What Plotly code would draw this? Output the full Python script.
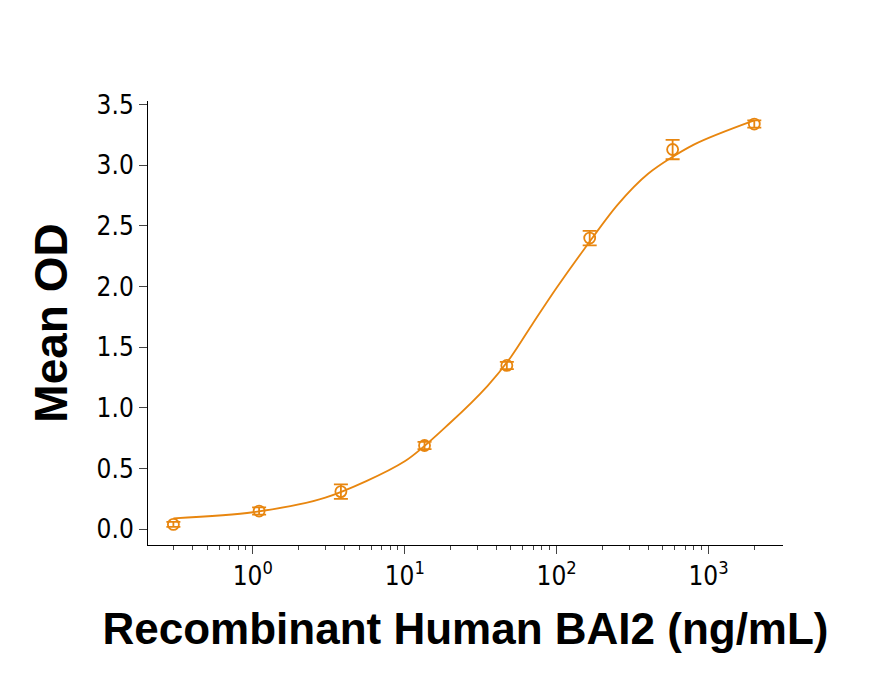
import plotly.graph_objects as go

conc = [0.3, 1.1, 3.8, 13.5, 47, 165, 580, 2000]
od = [0.04, 0.15, 0.31, 0.69, 1.35, 2.40, 3.13, 3.34]
err = [0.02, 0.03, 0.06, 0.03, 0.03, 0.06, 0.08, 0.03]
# smooth fitted-curve points
curve_x = [0.3, 1, 3, 10, 20, 35, 50, 70, 100, 150, 250, 400, 800, 2000]
curve_y = [0.09, 0.14, 0.26, 0.56, 0.88, 1.18, 1.42, 1.70, 1.99, 2.30, 2.67, 2.93, 3.17, 3.37]
xtick_vals = [1, 10, 100, 1000]
xtick_text = ["10<sup>0</sup>", "10<sup>1</sup>", "10<sup>2</sup>", "10<sup>3</sup>"]
minor_vals = [m * 10 ** e for e in range(-1, 4) for m in range(2, 10) if 0.2 < m * 10 ** e < 3000]
ytick_vals = [0, 0.5, 1.0, 1.5, 2.0, 2.5, 3.0, 3.5]

col = "#E8860F"
fig = go.Figure()
fig.add_trace(go.Scatter(x=curve_x, y=curve_y, mode="lines", line=dict(color=col, width=1.8, shape="spline", smoothing=0.8), hoverinfo="skip"))
fig.add_trace(go.Scatter(x=conc, y=od, mode="markers",
    marker=dict(symbol="circle-open", size=11, color=col, line=dict(width=1.8)),
    error_y=dict(type="data", array=err, color=col, thickness=1.8, width=7)))
font = "Liberation Sans Narrow, DejaVu Sans Condensed, sans-serif"
fig.update_layout(width=872, height=686, showlegend=False, plot_bgcolor="white", paper_bgcolor="white",
    margin=dict(l=140, r=97, t=93, b=149),
    xaxis=dict(type="log", range=[-0.69, 3.49], tickvals=xtick_vals, ticktext=xtick_text, automargin=False,
        ticks="outside", ticklen=8, showline=True, linecolor="black", showgrid=False, zeroline=False,
        minor=dict(tickmode="array", tickvals=minor_vals, ticks="outside", ticklen=4, showgrid=False),
        tickfont=dict(family=font, size=26, color="black"),
        title=dict(text="<b>Recombinant Human BAI2 (ng/mL)</b>", font=dict(family="Liberation Sans, Arial", size=44, color="black"), standoff=22)),
    yaxis=dict(range=[-0.13, 3.53], tickvals=ytick_vals, tickformat=".1f", automargin=False,
        ticks="outside", ticklen=8, showline=True, linecolor="black", showgrid=False, zeroline=False,
        tickfont=dict(family=font, size=26, color="black"),
        title=dict(text="<b>Mean OD</b>", font=dict(family="Liberation Sans, Arial", size=46, color="black"), standoff=14)))
fig.write_html("out.html")
